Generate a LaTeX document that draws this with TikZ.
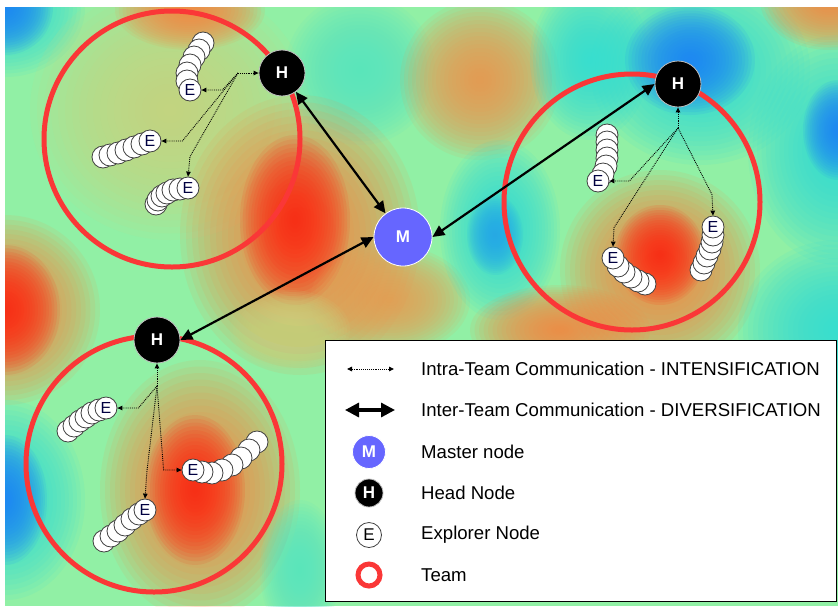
\documentclass[tikz,border=0pt]{standalone}
\usepackage{fontspec}
\setmainfont{Liberation Sans}
\usetikzlibrary{arrows.meta,positioning,calc}

\definecolor{teamred}{RGB}{250,55,55}
\definecolor{masterblue}{RGB}{102,102,255}
\definecolor{hmred}{RGB}{255,40,20}
\definecolor{hmorange}{RGB}{250,135,65}
\definecolor{hmyellow}{RGB}{205,212,128}
\definecolor{hmgreen}{RGB}{145,240,165}
\definecolor{hmcyan}{RGB}{50,222,215}
\definecolor{hmblue}{RGB}{30,130,250}
% soft elliptic spot of the heat map: x, y, x radius, y radius, colour
\newcommand{\heat}[5]{\foreach \k in {0,...,19}{\fill[#5,opacity=0.1] (#1,#2) circle[x radius={(#3*(1-\k/20))*1pt},y radius={(#4*(1-\k/20))*1pt}];}}

\begin{document}
\begin{tikzpicture}[x=1pt,y=-1pt,
  smalltip/.tip={Triangle[length=5pt,width=4.5pt]},
  bigtip/.tip={Triangle[length=12pt,width=11pt]},
  head/.style={circle,fill=black,draw=white!75!black,line width=0.8pt,minimum size=46pt,inner sep=0pt,text=white,font=\bfseries\fontsize{17}{17}\selectfont},
  master/.style={circle,fill=masterblue,draw=white,line width=0.8pt,minimum size=58pt,inner sep=0pt,text=white,font=\bfseries\fontsize{17}{17}\selectfont},
  expl/.style={circle,fill=white,draw=black!75,line width=0.8pt,minimum size=22pt,inner sep=0pt,text=black!75!blue,font=\fontsize{16}{16}\selectfont},
  trail/.style={expl},
  team/.style={circle,draw=teamred,line width=5pt,minimum size=256pt,inner sep=0pt},
  intra/.style={densely dotted,line width=0.9pt,-smalltip},
  inter/.style={line width=2.2pt,bigtip-bigtip},
  legtext/.style={anchor=west,inner sep=0pt,font=\fontsize{18.6}{18}\selectfont}]

  \fill[white] (0,0) rectangle (838,606);
  \useasboundingbox (0,0) rectangle (838,606);

  % heat map
  \begin{scope}
    \clip (5,7) rectangle (838,606);
    \fill[hmgreen] (5,7) rectangle (838,606);
    \heat{5}{7}{80}{70}{hmcyan}
    \heat{5}{7}{48}{48}{hmblue}
    \heat{170}{110}{140}{130}{hmyellow}
    \heat{190}{10}{75}{40}{hmorange}
    \heat{360}{70}{75}{75}{hmcyan!60!hmgreen}
    \heat{300}{235}{120}{140}{hmorange}
    \heat{295}{220}{55}{85}{hmred}
    \heat{390}{300}{80}{55}{hmorange!70!hmyellow}
    \heat{5}{310}{95}{95}{hmorange}
    \heat{5}{310}{55}{65}{hmred}
    \heat{5}{500}{80}{100}{hmcyan}
    \heat{5}{500}{42}{65}{hmblue}
    \heat{200}{490}{100}{130}{hmorange}
    \heat{195}{490}{50}{75}{hmred}
    \heat{300}{570}{40}{70}{hmcyan!60!hmgreen}
    \heat{480}{80}{80}{80}{hmorange!80!hmyellow}
    \heat{590}{60}{60}{80}{hmcyan}
    \heat{700}{70}{110}{95}{hmcyan}
    \heat{690}{60}{65}{55}{hmblue}
    \heat{838}{150}{90}{115}{hmcyan}
    \heat{838}{130}{35}{50}{hmblue}
    \heat{830}{0}{70}{50}{hmorange}
    \heat{660}{270}{100}{100}{hmorange}
    \heat{660}{255}{45}{50}{hmred}
    \heat{500}{230}{60}{90}{hmcyan}
    \heat{495}{235}{28}{40}{hmblue!60!hmcyan}
    \heat{560}{330}{90}{45}{hmorange}
    \heat{290}{330}{60}{40}{hmyellow}
    \heat{838}{330}{100}{90}{hmcyan}
  \end{scope}

  % teams
  \node[team] (t1) at (172,139) {};
  \node[team] (t2) at (632,202) {};
  \node[team] (t3) at (154,464) {};

  % explorer trails
  \foreach \p in {(203,43),(199,50),(194,57),(190,65),(187,73),(187,81)} \node[trail] at \p {};
  \node[expl] (e1) at (190,90) {E};
  \foreach \p in {(103,157),(110,155),(118,153),(126,150),(134,147),(142,144)} \node[trail] at \p {};
  \node[expl] (e2) at (150,141) {E};
  \foreach \p in {(156,204),(158,200),(162,196),(167,193),(173,190),(180,189)} \node[trail] at \p {};
  \node[expl] (e3) at (188,188) {E};

  \foreach \p in {(607,135),(607,142),(607,150),(607,158),(606,166),(603,174)} \node[trail] at \p {};
  \node[expl] (e4) at (598,181) {E};
  \foreach \p in {(645,284),(638,281),(631,277),(624,272),(618,266)} \node[trail] at \p {};
  \node[expl] (e5) at (613,258) {E};
  \foreach \p in {(701,270),(704,263),(707,256),(710,249),(712,242),(713,235)} \node[trail] at \p {};
  \node[expl] (e6) at (713,227) {E};

  \foreach \p in {(68,431),(74,426),(80,421),(86,417),(92,413),(99,410)} \node[trail] at \p {};
  \node[expl] (e7) at (106,408) {E};
  \foreach \p in {(104,541),(111,536),(118,531),(125,525),(132,519),(139,514)} \node[trail] at \p {};
  \node[expl] (e8) at (145,510) {E};
  \foreach \p in {(257,442),(249,450),(241,458),(232,465),(222,470),(212,473),(202,472)} \node[trail] at \p {};
  \node[expl] (e9) at (193,470) {E};

  % heads and master
  \node[head] (h1) at (282,73) {H};
  \node[head] (h2) at (678,84) {H};
  \node[head] (h3) at (157,340) {H};
  \node[master] (m) at (403,237) {M};

  % intra-team links
  \coordinate (j1) at (238,73);
  \coordinate (j2) at (678,128);
  \coordinate (j3) at (157,386);
  \draw[intra] (j1) -- (h1);
  \draw[intra] (j1) -- ($(e1.east)+(21,0)$) -- (e1.east);
  \draw[intra] (j1) -- ($(e2.east)+(21,0)$) -- (e2.east);
  \draw[intra] (j1) -- ($(e3.north)+(2,-20)$) -- (e3.north);
  \draw[intra] (j2) -- (h2);
  \draw[intra] (j2) -- ($(e4.east)+(20,0)$) -- (e4.east);
  \draw[intra] (j2) -- ($(e5.north)+(1,-19)$) -- (e5.north);
  \draw[intra] (j2) -- ($(e6.north)+(-1,-21)$) -- (e6.north);
  \draw[intra] (j3) -- (h3);
  \draw[intra] (j3) -- ($(e7.east)+(21,0)$) -- (e7.east);
  \draw[intra] (j3) -- ($(e8.north)+(2,-28)$) -- (e8.north);
  \draw[intra] (j3) -- ($(e9.west)+(-18,0)$) -- (e9.west);

  % inter-team links
  \draw[inter] (h1) -- (m);
  \draw[inter] (m.east) -- (h2.west);
  \draw[inter] (m.west) -- (h3.east);

  % legend
  \node[draw=black,fill=white,line width=0.8pt,minimum width=511pt,minimum height=261pt,inner sep=0pt,anchor=north west] (legend) at (325,340) {};
  \coordinate (lia) at (347,369);
  \coordinate (lib) at (394,369);
  \draw[intra,smalltip-smalltip] (lia) -- (lib);
  \node[legtext,right=27pt of lib] (lt1) {Intra-Team Communication - INTENSIFICATION};
  \coordinate (lea) at (345,410);
  \coordinate (leb) at (395,410);
  \draw[line width=3.2pt,{Triangle[length=14pt,width=14pt]}-{Triangle[length=14pt,width=14pt]}] (lea) -- (leb);
  \node[legtext,right=26pt of leb] (lt2) {Inter-Team Communication - DIVERSIFICATION};
  \node[master,minimum size=33pt,font=\bfseries\fontsize{17}{17}\selectfont] (lm) at (369,452) {M};
  \node[legtext,right=52pt of lm.center] (lt3) {Master node};
  \node[head,minimum size=28pt] (lh) at (369,493) {H};
  \node[legtext,right=52pt of lh.center] (lt4) {Head Node};
  \node[expl,minimum size=25pt,font=\fontsize{17}{17}\selectfont,text=black] (le) at (369,535) {E};
  \node[legtext,right=52pt of le.center] (lt5) {Explorer Node};
  \node[circle,draw=teamred,line width=5pt,minimum size=22pt,inner sep=0pt] (lteam) at (369,575) {};
  \node[legtext,right=52pt of lteam.center] (lt6) {Team};
\end{tikzpicture}
\end{document}
